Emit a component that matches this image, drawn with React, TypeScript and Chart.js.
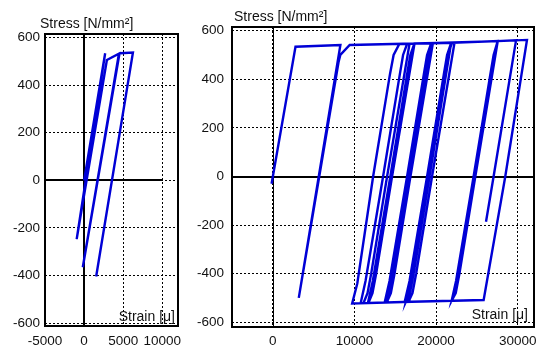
import { useEffect, useRef } from 'react';
import { Chart, registerables } from 'chart.js';

Chart.register(...registerables);

// ---- Data (strain in µ, stress in N/mm²) ----
const LEFT_STRAIN = [0, 2690, -950, 2910, 4450, -170, 4520, 4615, 6240, 1540];
const LEFT_STRESS = [0, 534, -247, 506, 532, -365, 533, 534, 537, -404];

const RIGHT_STRAIN = [
  -150, 2780, 8280, 3180, 8050, 8270, 9420, 20000, 27500, 31140,
  28480, 25830, 17000, 9720,
  10350, 12290, 14350, 14800, 15500,
  16750, 14000, 12050, 11600, 11100,
  10760, 11360, 13510, 15560, 15960, 16460,
  17360, 14610, 12660, 12210, 11710,
  11650, 12250, 14400, 16450, 16850, 17350,
  19610, 16860, 14910, 14460, 13960,
  13700, 14300, 16450, 18500, 18900, 19400,
  19450, 16700, 14750, 14300, 13800,
  14400, 16550, 18600, 19000, 19500,
  22260, 19510, 17560, 17110, 16610,
  16150, 16750, 18900, 20950, 21350, 21850,
  21950, 19200, 17250, 16800, 16300,
  16250, 16850, 19000, 21050, 21450, 21950,
  27560, 24810, 22860, 22410, 21910,
  21850, 22450, 24600, 26650, 27050, 27550,
  29800, 27050, 26120,
];
const RIGHT_STRESS = [
  -30, 534, 541, -499, 470, 500, 541, 549, 557, 562,
  0, -508, -515, -522,
  -440, 0, 420, 500, 545,
  546, 0, -400, -480, -521,
  -521, -430, 0, 420, 500, 546,
  547, 0, -400, -480, -520,
  -520, -430, 0, 420, 500, 547,
  548, 0, -400, -480, -518,
  -519, -430, 0, 420, 500, 548,
  548, 0, -400, -480, -519,
  -430, 0, 420, 500, 548,
  550, 0, -400, -480, -516,
  -516, -430, 0, 420, 500, 550,
  550, 0, -400, -480, -516,
  -516, -430, 0, 420, 500, 550,
  557, 0, -400, -480, -511,
  -511, -430, 0, 420, 500, 557,
  560, 0, -186,
];

const LEFT_X_TICKS = [-5000, 0, 5000, 10000];
const RIGHT_X_TICKS = [0, 10000, 20000, 30000];
const Y_TICKS = [-600, -400, -200, 0, 200, 400, 600];

const Y_TITLE = 'Stress [N/mm²]';
const X_TITLE = 'Strain [μ]';

const BLUE = '#0000d6';
const FONT = '"Liberation Sans", Arial, sans-serif';

type PanelCfg = {
  strain: number[];
  stress: number[];
  xMin: number;
  xMax: number;
  yMin: number;
  yMax: number;
  xTicks: number[];
  yAxisWidth: number;
  xAxisHeight: number;
  padTop: number;
  padRight: number;
  yLabelPad: number;
  xLabelPad: number;
  zeroXWidth: number;
  zeroYEnd: number | null;
  titleDx: number;
  titleDy: number;
  xTitleDx: number;
  xTitleDy: number;
};

function makePlugin(c: PanelCfg) {
  return {
    id: 'panelDecor',
    beforeDatasetsDraw(chart: any) {
      const { ctx, chartArea: a, scales } = chart;
      const x = scales.x;
      const y = scales.y;
      ctx.save();
      ctx.strokeStyle = '#000';
      ctx.setLineDash([]);
      ctx.lineWidth = c.zeroXWidth;
      let x0 = x.getPixelForValue(0);
      x0 = c.zeroXWidth % 2 === 1 ? Math.round(x0) + 0.5 : Math.round(x0);
      ctx.beginPath();
      ctx.moveTo(x0, a.top);
      ctx.lineTo(x0, a.bottom);
      ctx.stroke();
      ctx.lineWidth = 2;
      const y0 = Math.round(y.getPixelForValue(0));
      const xe = c.zeroYEnd == null ? a.right : x.getPixelForValue(c.zeroYEnd);
      ctx.beginPath();
      ctx.moveTo(a.left, y0);
      ctx.lineTo(xe, y0);
      ctx.stroke();
      ctx.restore();
    },
    afterDraw(chart: any) {
      const { ctx, chartArea: a } = chart;
      ctx.save();
      ctx.strokeStyle = '#000';
      ctx.lineWidth = 2;
      ctx.setLineDash([]);
      ctx.strokeRect(Math.round(a.left), Math.round(a.top), Math.round(a.right) - Math.round(a.left), Math.round(a.bottom) - Math.round(a.top));
      ctx.fillStyle = '#111';
      ctx.font = `14px ${FONT}`;
      ctx.textAlign = 'left';
      ctx.textBaseline = 'alphabetic';
      ctx.fillText(Y_TITLE, a.left + c.titleDx, a.top - c.titleDy);
      ctx.textAlign = 'right';
      ctx.fillText(X_TITLE, a.right - c.xTitleDx, a.bottom - c.xTitleDy);
      ctx.restore();
    },
  };
}

function Panel({ cfg, left, width }: { cfg: PanelCfg; left: number; width: number }) {
  const ref = useRef<HTMLCanvasElement | null>(null);
  useEffect(() => {
    if (!ref.current) return;
    const pts = cfg.strain.map((v, i) => ({ x: v, y: cfg.stress[i] }));
    const tickFont = { family: FONT, size: 13.5 };
    const chart = new Chart(ref.current, {
      type: 'scatter',
      data: {
        datasets: [
          {
            data: pts,
            showLine: true,
            borderColor: BLUE,
            backgroundColor: BLUE,
            borderWidth: 2.4,
            pointRadius: 0,
            tension: 0,
            fill: false,
          } as any,
        ],
      },
      options: {
        animation: false,
        responsive: false,
        devicePixelRatio: 1,
        events: [],
        layout: { padding: { top: cfg.padTop, right: cfg.padRight, left: 0, bottom: 0 } },
        plugins: { legend: { display: false }, tooltip: { enabled: false }, title: { display: false } },
        scales: {
          x: {
            type: 'linear',
            position: 'bottom',
            min: cfg.xMin,
            max: cfg.xMax,
            afterBuildTicks: (s: any) => {
              s.ticks = cfg.xTicks.map((v) => ({ value: v }));
            },
            afterFit: (s: any) => {
              s.height = cfg.xAxisHeight;
            },
            ticks: {
              font: tickFont,
              color: '#111',
              padding: cfg.xLabelPad,
              maxRotation: 0,
              autoSkip: false,
              callback: (v: any) => String(v),
            },
            grid: { display: true, color: '#000', lineWidth: 1, drawTicks: false },
            border: { display: false, dash: [2, 2] },
          },
          y: {
            type: 'linear',
            position: 'left',
            min: cfg.yMin,
            max: cfg.yMax,
            afterBuildTicks: (s: any) => {
              s.ticks = Y_TICKS.map((v) => ({ value: v }));
            },
            afterFit: (s: any) => {
              s.width = cfg.yAxisWidth;
            },
            ticks: {
              font: tickFont,
              color: '#111',
              padding: cfg.yLabelPad,
              autoSkip: false,
              callback: (v: any) => String(v),
            },
            grid: { display: true, color: '#000', lineWidth: 1, drawTicks: false },
            border: { display: false, dash: [2, 2] },
          },
        },
      } as any,
      plugins: [makePlugin(cfg) as any],
    });
    return () => chart.destroy();
  }, [cfg]);
  return (
    <canvas
      ref={ref}
      width={width}
      height={347}
      style={{ position: 'absolute', left, top: 0, width, height: 347 }}
    />
  );
}

const LEFT_CFG: PanelCfg = {
  strain: LEFT_STRAIN,
  stress: LEFT_STRESS,
  xMin: -5000,
  xMax: 12000,
  yMin: -612,
  yMax: 615,
  xTicks: LEFT_X_TICKS,
  yAxisWidth: 45,
  xAxisHeight: 21,
  padTop: 34,
  padRight: 12,
  yLabelPad: 5,
  xLabelPad: 7,
  zeroXWidth: 2,
  zeroYEnd: 10000,
  titleDx: -5,
  titleDy: 6,
  xTitleDx: 3,
  xTitleDy: 5,
};

const RIGHT_CFG: PanelCfg = {
  strain: RIGHT_STRAIN,
  stress: RIGHT_STRESS,
  xMin: -5000,
  xMax: 32000,
  yMin: -619,
  yMax: 615,
  xTicks: RIGHT_X_TICKS,
  yAxisWidth: 42,
  xAxisHeight: 20,
  padTop: 27,
  padRight: 9,
  yLabelPad: 8,
  xLabelPad: 6,
  zeroXWidth: 1,
  zeroYEnd: null,
  titleDx: 2,
  titleDy: 6,
  xTitleDx: 6,
  xTitleDy: 8,
};

export default function App() {
  return (
    <div style={{ position: 'absolute', left: 0, top: 0, width: 543, height: 347, background: '#fff' }}>
      <Panel cfg={LEFT_CFG} left={0} width={190} />
      <Panel cfg={RIGHT_CFG} left={190} width={353} />
    </div>
  );
}
